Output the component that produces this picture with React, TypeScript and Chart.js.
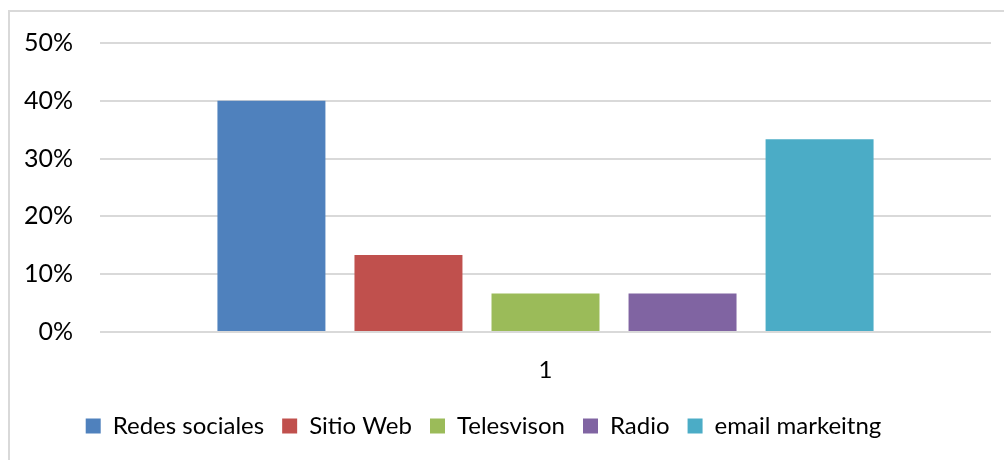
import React, { useEffect, useRef } from "react";
import { Chart, registerables } from "chart.js";
Chart.register(...registerables);

const categories = ["1"];
const seriesNames = ["Redes sociales", "Sitio Web", "Telesvison", "Radio", "email markeitng"];
const seriesValues = [0.4, 0.1333, 0.0667, 0.0667, 0.3333];
const seriesColors = ["#4F81BD", "#C0504D", "#9BBB59", "#8064A2", "#4BACC6"];
const yTicks = [0, 0.1, 0.2, 0.3, 0.4, 0.5];

const FONT = "Lato, 'Open Sans', sans-serif";

const legendShift = {
  id: "legendShift",
  afterLayout(chart: any) {
    const lg = chart.legend;
    if (lg) {
      lg.left -= 12;
      lg.right -= 12;
    }
  },
};

export default function App() {
  const ref = useRef<HTMLCanvasElement>(null);
  useEffect(() => {
    document.body.style.margin = "0";
    const chart = new Chart(ref.current!, {
      type: "bar",
      data: {
        labels: categories,
        datasets: seriesNames.map((name, i) => ({
          label: name,
          data: [seriesValues[i]],
          backgroundColor: seriesColors[i],
          borderWidth: 0,
          categoryPercentage: 0.769,
          barPercentage: 0.788,
        })),
      },
      options: {
        animation: false,
        responsive: false,
        layout: { padding: { top: 43, right: 13, left: 0, bottom: 12 } },
        plugins: {
          tooltip: { enabled: false },
          legend: {
            position: "bottom",
            labels: {
              color: "#000",
              font: { family: FONT, size: 24 },
              boxWidth: 15,
              boxHeight: 15,
              padding: 18,
            },
          },
        },
        scales: {
          x: {
            grid: { display: false, drawTicks: false },
            border: { display: false },
            ticks: { color: "#000", font: { family: FONT, size: 24 }, padding: 24 },
            afterFit: (s: any) => {
              s.height = 64;
            },
          },
          y: {
            min: 0,
            max: 0.5,
            grid: { color: "#d9d9d9", lineWidth: 2, drawTicks: false },
            border: { display: false },
            afterBuildTicks: (s: any) => {
              s.ticks = yTicks.map((v) => ({ value: v }));
            },
            ticks: {
              color: "#000",
              font: { family: FONT, size: 25 },
              padding: 27,
              callback: (v: any) => Math.round(Number(v) * 100) + "%",
            },
            afterFit: (s: any) => {
              s.width = 100;
            },
          },
        },
      },
      plugins: [legendShift],
    });
    return () => chart.destroy();
  }, []);
  return (
    <div style={{ position: "relative", width: 1004, height: 460, overflow: "hidden", background: "#fff" }}>
      <div
        style={{
          position: "absolute",
          left: 8,
          top: 10,
          width: 1100,
          height: 600,
          border: "2px solid #d9d9d9",
          boxSizing: "border-box",
        }}
      />
      <canvas ref={ref} width={1004} height={460} style={{ position: "absolute", left: 0, top: 0 }} />
    </div>
  );
}
